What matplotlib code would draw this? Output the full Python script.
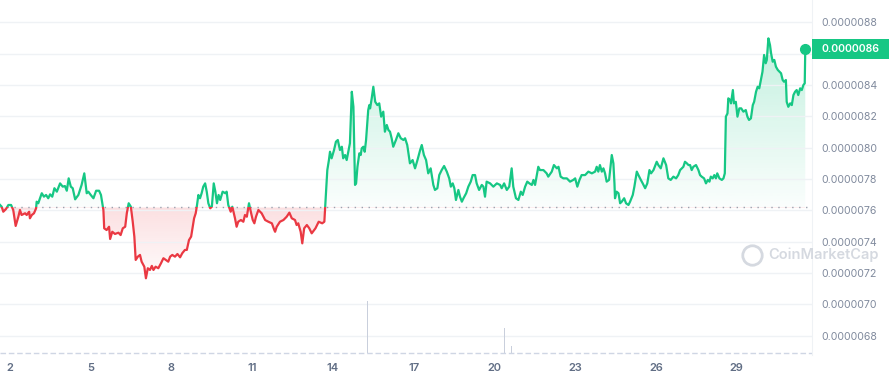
import numpy as np
import matplotlib
matplotlib.use("Agg")
import matplotlib.pyplot as plt
from matplotlib.patches import Polygon, Rectangle
from matplotlib.transforms import blended_transform_factory
from matplotlib.lines import Line2D
from matplotlib.colors import to_rgb

plt.rcParams['font.family'] = ['Inter', 'DejaVu Sans']

green = '#16c784'
red = '#ea3943'
grid_col = '#eff2f5'
label_col = '#808a9d'

# day of month (fractional) and price in units of 1e-9 USD
day = [1.63, 1.69, 1.75, 1.85, 1.94, 2.04, 2.12, 2.21, 2.31, 2.37, 2.43, 2.56, 2.62, 2.71, 2.74, 2.81, 2.89, 2.97, 2.99, 3.05,
       3.18, 3.26, 3.34, 3.42, 3.49, 3.57, 3.65, 3.74, 3.86, 3.96, 4.04, 4.11, 4.18, 4.26, 4.33, 4.42, 4.54, 4.66, 4.76, 4.85,
       4.91, 5.00, 5.10, 5.20, 5.31, 5.38, 5.47, 5.50, 5.59, 5.68, 5.72, 5.80, 5.90, 6.03, 6.11, 6.19, 6.28, 6.34, 6.41, 6.49,
       6.56, 6.62, 6.67,
       6.75, 6.83, 6.89, 6.99, 7.05, 7.12, 7.20, 7.27, 7.33, 7.41, 7.51, 7.61, 7.70, 7.79, 7.88, 7.95, 8.03, 8.13, 8.22, 8.32,
       8.40, 8.50, 8.57, 8.65, 8.73, 8.77, 8.84, 8.90, 8.94, 9.00, 9.06, 9.12, 9.18, 9.25, 9.31, 9.37, 9.44, 9.50, 9.57, 9.63,
       9.69, 9.75, 9.81, 9.90, 10.00, 10.05, 10.11, 10.20, 10.26, 10.36, 10.42, 10.48, 10.58, 10.67, 10.73, 10.80, 10.88,
       10.96, 11.02, 11.08, 11.14, 11.23, 11.35, 11.48, 11.60, 11.73, 11.82,
       11.85, 11.91, 12.03, 12.16, 12.28, 12.38, 12.47, 12.59, 12.65, 12.71, 12.80, 12.86, 12.93, 13.03, 13.12, 13.21, 13.35,
       13.47, 13.60, 13.68, 13.71, 13.74, 13.79, 13.85, 13.89, 13.95, 14.04, 14.11, 14.18, 14.26, 14.33, 14.38, 14.45, 14.51,
       14.57, 14.63, 14.70, 14.76, 14.82, 14.86, 14.91, 14.98, 15.03, 15.07, 15.13, 15.18, 15.23, 15.31, 15.35, 15.38, 15.44,
       15.50, 15.57, 15.65, 15.72, 15.79, 15.87, 15.93, 16.00, 16.06, 16.12, 16.18, 16.24, 16.34, 16.43, 16.52, 16.62, 16.68,
       16.76, 16.86,
       16.96, 17.05, 17.14, 17.24, 17.30, 17.38, 17.46, 17.54, 17.63, 17.73, 17.79, 17.88, 17.95, 18.04, 18.13, 18.23, 18.32,
       18.38, 18.45, 18.51, 18.57, 18.66, 18.72, 18.79, 18.85, 18.95, 19.03, 19.12, 19.19, 19.28, 19.34, 19.43, 19.53, 19.59,
       19.65, 19.71, 19.84, 19.96, 20.09, 20.21, 20.27, 20.36, 20.46, 20.55, 20.64, 20.70, 20.80, 20.89, 20.98, 21.05, 21.14,
       21.22, 21.30, 21.39, 21.45, 21.51, 21.60, 21.63,
       21.69, 21.82, 21.94, 22.00, 22.13, 22.21, 22.32, 22.38, 22.46, 22.56, 22.69, 22.81, 22.93, 23.00, 23.08, 23.16, 23.24,
       23.37, 23.49, 23.62, 23.74, 23.80, 23.86, 23.92, 23.99, 24.05, 24.11, 24.17, 24.26, 24.36, 24.42, 24.46, 24.48, 24.54,
       24.61, 24.67, 24.73, 24.82, 24.89, 24.98, 25.04, 25.14, 25.20, 25.29, 25.35, 25.44, 25.51, 25.60, 25.68, 25.76, 25.82,
       25.91, 26.03, 26.09, 26.18, 26.28, 26.38, 26.46, 26.55, 26.65, 26.75, 26.83,
       26.90, 26.96, 27.02, 27.08, 27.15, 27.21, 27.27, 27.33, 27.39, 27.49, 27.58, 27.64, 27.70, 27.79, 27.86, 27.93, 27.99,
       28.04, 28.11, 28.17, 28.23, 28.28, 28.36, 28.45, 28.51, 28.56, 28.60, 28.66, 28.69, 28.76, 28.79, 28.86, 28.90, 28.97,
       29.03, 29.10, 29.17, 29.25, 29.34, 29.40, 29.46, 29.53, 29.60, 29.65, 29.72, 29.78, 29.84, 29.90, 29.96, 30.02, 30.08,
       30.12, 30.18, 30.24, 30.28, 30.34, 30.40, 30.46, 30.53, 30.59, 30.65, 30.71, 30.76, 30.83, 30.86, 30.92, 30.99, 31.05,
       31.11, 31.17, 31.23, 31.29, 31.36, 31.42, 31.48, 31.53, 31.55]

price_e9 = [7634, 7623, 7591, 7608, 7634, 7634, 7602, 7500, 7559, 7602, 7570, 7581, 7570, 7591, 7549, 7570, 7581, 7613, 7655, 7645,
            7709, 7687, 7698, 7677, 7702, 7687, 7741, 7719, 7772, 7751, 7755, 7725, 7804, 7751, 7741, 7670, 7698, 7762, 7836, 7709,
            7719, 7698, 7677, 7725, 7725, 7698, 7602, 7485, 7474, 7495, 7417, 7463, 7449, 7457, 7442, 7485, 7495, 7581, 7645, 7623,
            7527, 7432, 7283,
            7304, 7315, 7272, 7240, 7166, 7230, 7219, 7245, 7219, 7240, 7230, 7262, 7294, 7283, 7272, 7304, 7315, 7304, 7321, 7300,
            7326, 7347, 7347, 7410, 7432, 7474, 7549, 7581, 7623, 7698, 7677, 7709, 7751, 7772, 7719, 7645, 7613, 7623, 7772, 7719,
            7645, 7698, 7666, 7719, 7709, 7719, 7634, 7591, 7623, 7549, 7495, 7527, 7538, 7527, 7570, 7559, 7645,
            7581, 7538, 7517, 7559, 7602, 7581, 7538, 7527, 7517, 7474,
            7463, 7495, 7527, 7538, 7559, 7585, 7549, 7538, 7506, 7517, 7463, 7389, 7485, 7506, 7485, 7453, 7485,
            7527, 7517, 7527, 7623, 7709, 7857, 7921, 7974, 7932, 7985, 8038, 8049, 7985, 8006, 7932, 7953, 7921,
            7974, 8028, 8357, 8261, 7762, 7772, 7878, 7964, 7953, 7996, 8006, 7974, 8049, 8240, 8272, 8251, 8315,
            8389, 8293, 8272, 8283, 8198, 8230, 8102, 8145, 8113, 8102, 8060, 8006, 8049, 8092, 8060, 8049, 8060,
            8017, 7900,
            7921, 7868, 7921, 7985, 8017, 7953, 7921, 7836, 7868, 7762, 7730, 7741, 7825, 7857, 7883, 7847, 7804,
            7751, 7772, 7741, 7666, 7730, 7687, 7655, 7677, 7709, 7751, 7783, 7825, 7825, 7772, 7730, 7762, 7751,
            7687, 7783, 7772, 7751, 7772, 7762, 7741, 7772, 7730, 7751, 7868, 7751, 7677, 7666, 7719, 7698, 7751,
            7783, 7772, 7762, 7794, 7762, 7847, 7878,
            7857, 7857, 7836, 7815, 7847, 7889, 7868, 7878, 7815, 7804, 7804, 7783, 7794, 7804, 7751, 7794, 7825,
            7825, 7847, 7836, 7847, 7878, 7847, 7889, 7847, 7868, 7836, 7783, 7794, 7953, 7900, 7772, 7677, 7719,
            7709, 7645, 7655, 7677, 7645, 7634, 7655, 7698, 7751, 7847, 7825, 7794, 7772, 7741, 7772, 7857, 7836,
            7857, 7910, 7889, 7868, 7932, 7889, 7804, 7794, 7815, 7804, 7825,
            7857, 7868, 7878, 7910, 7900, 7889, 7889, 7857, 7878, 7889, 7857, 7825, 7815, 7804, 7772, 7794, 7783,
            7815, 7804, 7825, 7804, 7836, 7804, 7794, 7804, 7836, 8198, 8219, 8315, 8304, 8283, 8368, 8283, 8293,
            8198, 8251, 8251, 8230, 8240, 8198, 8177, 8187, 8272, 8293, 8357, 8389, 8379, 8432, 8485, 8592, 8539,
            8560, 8698, 8655, 8602, 8549, 8560, 8517, 8496, 8485, 8475, 8432, 8421, 8432, 8293, 8261, 8283, 8272,
            8336, 8357, 8368, 8336, 8379, 8368, 8400, 8411, 8628]

open_e9 = 7618          # reference (opening) price, dotted line

# volume spikes (relative units)
vol_day = [15.30, 20.36, 20.65]
vol = [100, 48, 13]

ytick_e9 = [6800, 7000, 7200, 7400, 7600, 7800, 8000, 8200, 8400, 8600, 8800]
xtick_days = [2, 5, 8, 11, 14, 17, 20, 23, 26, 29]

day = np.array(day)
price = np.array(price_e9) * 1e-9
ref = open_e9 * 1e-9
yticks = np.array(ytick_e9) * 1e-9

W, H = 889, 380
fig = plt.figure(figsize=(W / 100, H / 100), dpi=100)
ax = fig.add_axes([0, 25 / H, 812 / W, 355 / H])
axv = ax.twinx()

x0, x1 = 1.628, 31.80
y0, y1 = 6.676e-6, 8.943e-6

# gradient fills, clipped to the area between the line and the open price
verts = [(day[0], ref)] + list(zip(day, price)) + [(day[-1], ref)]
clip_poly = Polygon(verts, closed=True, transform=ax.transData, facecolor='none', edgecolor='none')
ax.add_patch(clip_poly)

g = np.zeros((256, 1, 4))
g[..., :3] = to_rgb(green)
g[:, 0, 3] = np.linspace(0.02, 0.26, 256)
img_g = ax.imshow(g, extent=[x0, x1, ref, price.max()], origin='lower', aspect='auto', zorder=1)
img_g.set_clip_path(clip_poly)

r = np.zeros((256, 1, 4))
r[..., :3] = to_rgb(red)
r[:, 0, 3] = np.linspace(0.02, 0.16, 256)
img_r = ax.imshow(r, extent=[x0, x1, price.min(), ref], origin='lower', aspect='auto', zorder=1)
img_r.set_clip_path(clip_poly)

# line, green above the open price and red below
up = Rectangle((x0, ref), x1 - x0, 1.0, transform=ax.transData)
dn = Rectangle((x0, ref - 1.0), x1 - x0, 1.0, transform=ax.transData)
lg, = ax.plot(day, price, color=green, lw=1.6, solid_joinstyle='round', zorder=3)
lg.set_clip_path(up)
lr, = ax.plot(day, price, color=red, lw=1.6, solid_joinstyle='round', zorder=3)
lr.set_clip_path(dn)

ax.axhline(ref, color='#9aa1ae', lw=1, ls=(0, (1, 4)), zorder=2)
ax.plot(day[-1], price[-1], 'o', color=green, ms=7, zorder=4)

ax.set_xlim(x0, x1)
ax.set_ylim(y0, y1)
ax.yaxis.tick_right()
ax.set_yticks(yticks)
# the tick under the last-price tag is covered by the tag
last_lbl = f'{price[-1]:.7f}'
ax.set_yticklabels(['' if f'{v:.7f}' == last_lbl else f'{v:.7f}' for v in yticks])
ax.set_xticks(xtick_days)
ax.set_xticklabels([str(d) for d in xtick_days])
ax.tick_params(axis='y', length=0, pad=7, labelsize=7.6, labelcolor=label_col)
ax.tick_params(axis='x', length=0, pad=6, labelsize=8, labelcolor='#616e85')
for t in ax.get_xticklabels():
    t.set_fontweight('semibold')
ax.grid(axis='y', color=grid_col, lw=1, zorder=0)
for s in ['top', 'left', 'bottom']:
    ax.spines[s].set_visible(False)
ax.spines['right'].set_color(grid_col)

# volume
axv.set_ylim(-3.85, 679)
axv.bar(vol_day, vol, width=0.04, color='#c9cfdc', zorder=2)
axv.axhline(0, color='#cfd6e4', lw=1, ls=(0, (4, 2)))
axv.set_yticks([])
for s in axv.spines.values():
    s.set_visible(False)

# last price tag
tr = blended_transform_factory(ax.transAxes, ax.transData)
hh = (y1 - y0) * 10 / 355
tag = Rectangle((1.0, price[-1] - hh), 0.1, 2 * hh, transform=tr, facecolor=green,
                edgecolor='none', clip_on=False, zorder=10)
axv.add_patch(tag)
axv.text(1.0 + 10 / 812, price[-1], last_lbl, transform=tr, ha='left', va='center',
         color='white', fontsize=7.6, fontweight='semibold', zorder=11, clip_on=False)

# watermark
wm = '#d5d9e0'
fig.add_artist(Line2D([752 / W], [1 - 255 / H], marker='o', ms=14, mfc='none', mec=wm, mew=2.0,
                      transform=fig.transFigure))
fig.text(768 / W, 1 - 255 / H, 'CoinMarketCap', fontsize=10.5, color=wm, fontweight='semibold',
         ha='left', va='center')

fig.savefig('out.png', dpi=100)
